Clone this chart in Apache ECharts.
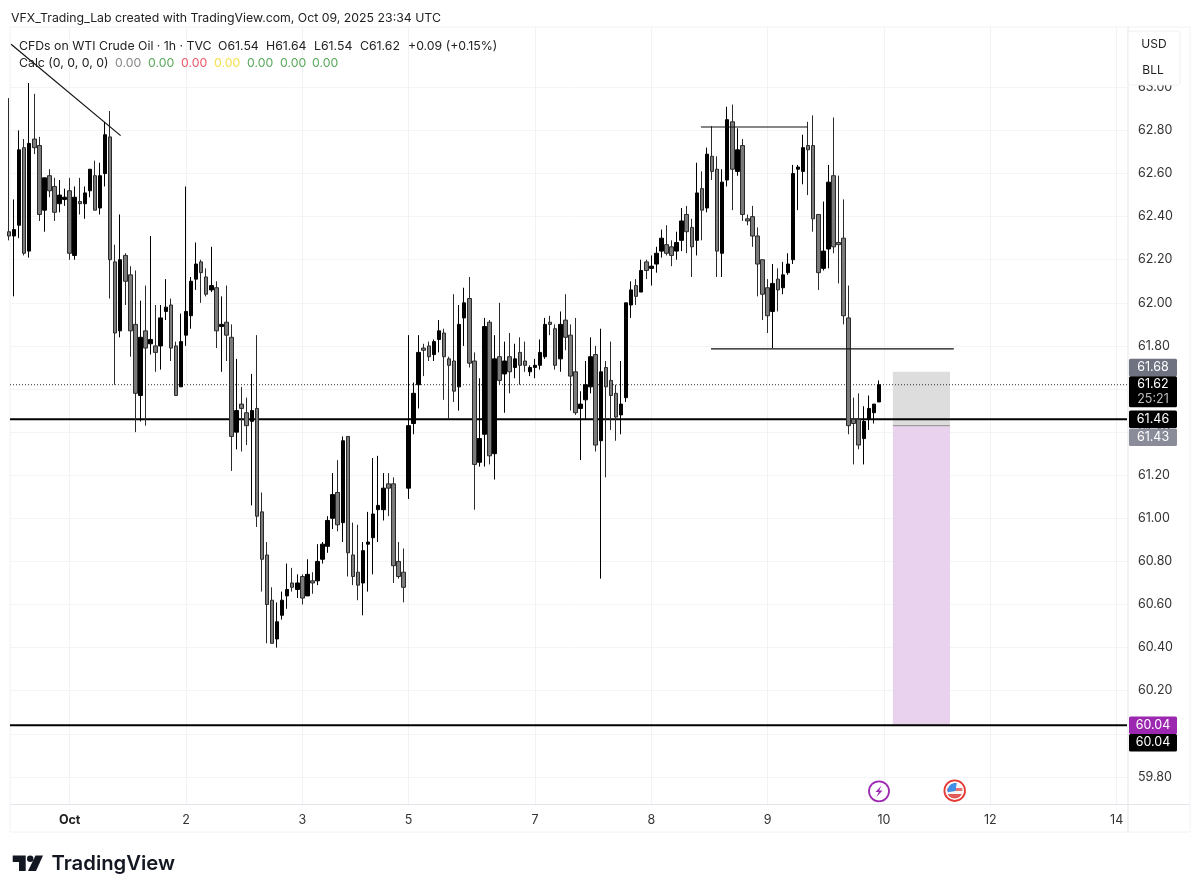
<!DOCTYPE html>
<html>
<head>
<meta charset="utf-8">
<title>CFDs on WTI Crude Oil</title>
<style>
  html, body { margin: 0; padding: 0; background: #fff; }
  #chart { width: 1200px; height: 895px; }
</style>
<script src="https://cdn.jsdelivr.net/npm/echarts@6/dist/echarts.min.js"></script>
</head>
<body>
<div id="chart"></div>
<script>
// 1h candles
var opens = [
  62.33,62.31,62.36,62.72,62.24,62.76,62.73,62.43,62.59,62.54,
  62.46,62.48,62.52,62.22,62.47,62.46,62.52,62.59,62.44,62.60,
  62.77,62.19,61.87,62.22,62.13,61.90,61.57,61.87,61.81,61.80,
  61.80,61.96,61.99,61.80,61.61,61.85,61.94,62.11,62.19,62.12,
  62.06,62.07,61.89,61.91,61.84,61.40,61.53,61.49,61.45,61.51,
  61.03,60.83,60.62,60.44,60.55,60.64,60.70,60.67,60.73,60.64,
  60.71,60.71,60.81,60.87,61.00,61.12,60.98,61.38,60.83,60.75,
  60.70,60.88,60.91,61.04,61.04,61.16,61.16,60.80,60.75,61.14,
  61.44,61.62,61.79,61.80,61.76,61.83,61.86,61.74,61.73,61.61,
  61.93,62.02,61.73,61.26,61.39,61.91,61.30,61.75,61.67,61.75,
  61.70,61.77,61.73,61.68,61.70,61.71,61.75,61.91,61.88,61.74,
  61.92,61.85,61.68,61.51,61.55,61.61,61.76,61.36,61.70,61.64,
  61.58,61.48,61.56,61.99,62.08,62.05,62.19,62.16,62.18,62.24,
  62.27,62.26,62.24,62.29,62.41,62.35,62.29,62.53,62.44,62.68,
  62.62,62.23,62.57,62.84,62.61,62.73,62.39,62.40,62.31,62.20,
  62.07,61.96,62.11,62.07,62.14,62.20,62.62,62.61,62.73,62.73,
  62.41,62.16,62.25,62.59,62.28,62.30,61.93,61.46,61.46,61.37,
  61.46,61.49,61.54
];
var closes = [
  62.31,62.34,62.71,62.23,62.74,62.72,62.41,62.58,62.52,62.42,
  62.50,62.49,62.23,62.49,62.46,62.51,62.62,62.43,62.59,62.78,
  62.20,61.86,62.20,62.10,61.87,61.58,61.84,61.79,61.83,61.77,
  61.93,61.98,61.79,61.57,61.82,61.96,62.10,62.18,62.14,62.04,
  62.08,61.87,61.90,61.85,61.38,61.50,61.51,61.43,61.50,61.01,
  60.81,60.60,60.42,60.52,60.62,60.67,60.68,60.70,60.63,60.74,
  60.70,60.80,60.88,60.99,61.11,60.97,61.36,60.84,60.73,60.69,
  60.85,60.89,61.02,61.06,61.14,61.14,60.78,60.73,60.68,61.43,
  61.58,61.77,61.78,61.75,61.82,61.87,61.75,61.71,61.59,61.90,
  62.00,61.72,61.25,61.37,61.89,61.29,61.74,61.64,61.73,61.68,
  61.74,61.71,61.71,61.70,61.71,61.77,61.90,61.90,61.71,61.90,
  61.84,61.66,61.49,61.53,61.62,61.75,61.34,61.68,61.61,61.57,
  61.47,61.53,62.00,62.06,62.03,62.15,62.15,62.17,62.23,62.30,
  62.23,62.22,62.28,62.38,62.33,62.26,62.51,62.43,62.69,62.61,
  62.24,62.56,62.85,62.62,62.71,62.41,62.38,62.31,62.18,62.04,
  61.94,62.09,62.06,62.13,62.18,62.60,62.63,62.72,62.71,62.39,
  62.14,62.24,62.56,62.26,62.27,61.94,61.43,61.44,61.34,61.45,
  61.51,61.53,61.62
];
var lows = [
  62.29,62.03,62.30,62.22,62.21,62.69,62.38,62.33,62.49,62.38,
  62.42,62.45,62.20,62.20,62.41,62.39,62.49,62.43,62.41,62.54,
  62.02,61.62,61.84,61.99,61.75,61.40,61.45,61.43,61.76,61.68,
  61.69,61.92,61.73,61.57,61.61,61.80,61.88,62.06,62.00,62.03,
  62.05,61.79,61.68,61.73,61.22,61.32,61.31,61.34,61.06,60.96,
  60.66,60.42,60.42,60.40,60.53,60.58,60.66,60.63,60.60,60.64,
  60.65,60.69,60.79,60.84,60.95,60.94,60.89,60.73,60.69,60.62,
  60.55,60.66,60.74,60.89,60.99,61.01,60.70,60.72,60.61,61.09,
  61.39,61.51,61.66,61.73,61.73,61.77,61.55,61.46,61.54,61.50,
  61.80,61.70,61.04,61.24,61.24,61.25,61.18,61.62,61.49,61.58,
  61.65,61.62,61.68,61.66,61.65,61.69,61.74,61.85,61.69,61.68,
  61.78,61.50,61.48,61.27,61.46,61.58,61.31,60.72,61.19,61.41,
  61.36,61.39,61.54,61.93,61.99,62.05,62.11,62.08,62.14,62.21,
  62.22,62.17,62.20,62.24,62.23,62.12,62.22,62.29,62.42,62.57,
  62.12,62.12,62.54,62.43,62.59,62.38,62.36,62.26,62.03,61.92,
  61.86,61.79,61.96,62.04,62.13,62.18,62.43,62.55,62.50,62.33,
  62.06,62.15,62.16,62.23,62.09,61.90,61.39,61.25,61.32,61.25,
  61.41,61.44,61.54
];
var highs = [
  62.95,62.48,62.80,62.76,63.02,62.97,62.77,62.58,62.62,62.58,
  62.57,62.53,62.58,62.54,62.58,62.54,62.62,62.66,62.65,62.84,
  62.89,62.27,62.41,62.23,62.17,62.15,62.01,62.08,62.31,61.99,
  61.99,62.11,62.02,61.82,61.95,62.54,62.12,62.28,62.20,62.16,
  62.26,62.10,62.03,62.08,61.90,61.74,61.61,61.56,61.67,61.85,
  61.12,60.89,60.68,60.61,60.66,60.79,60.77,60.74,60.74,60.81,
  60.75,60.88,60.89,61.01,61.21,61.27,61.38,61.38,60.98,60.97,
  60.89,61.03,61.28,61.29,61.21,61.21,61.19,60.89,60.86,61.85,
  61.63,61.85,61.81,61.82,61.83,61.92,61.88,61.75,62.04,61.99,
  62.07,62.12,61.77,61.65,61.93,61.92,61.85,62.00,61.82,61.86,
  61.81,61.84,61.82,61.71,61.74,61.83,61.93,61.94,61.90,61.96,
  62.04,61.90,61.93,61.59,61.73,61.84,61.80,61.88,61.73,61.82,
  61.62,61.73,62.00,62.10,62.11,62.20,62.20,62.22,62.26,62.34,
  62.36,62.29,62.33,62.44,62.45,62.39,62.65,62.61,62.72,62.82,
  62.68,62.62,62.91,62.92,62.81,62.76,62.41,62.45,62.35,62.20,
  62.11,62.18,62.16,62.19,62.23,62.64,62.64,62.78,62.84,62.87,
  62.41,62.47,62.64,62.86,62.59,62.48,62.08,61.56,61.58,61.52,
  61.57,61.53,61.64
];

// axes
var dateBars = [12, 35, 58, 79, 104, 127, 150, 173, 194, 219];
var dateNames = ['Oct', '2', '3', '5', '7', '8', '9', '10', '12', '14'];
var priceTicks = [59.8, 60, 60.2, 60.4, 60.6, 60.8, 61, 61.2, 61.4, 61.6, 61.8, 62, 62.2, 62.4, 62.6, 62.8, 63];

// drawings on the chart: bar numbers and prices
var supportPrices = [61.46, 60.04];
var lastPrice = 61.62;
var trendBars = [0.42, 22.07];
var trendPrices = [63.2, 62.776];
var topLineBars = [136.8, 157.85];
var topLinePrice = 62.816;
var lowLineBars = [138.8, 186.8];
var lowLinePrice = 61.786;
var boxBars = [174.75, 186.05];
var boxPrices = [61.68, 61.43, 60.04];

// price tags on the right
var tagNames = ['61.68', '61.62', '61.46', '61.43', '60.04', '60.04'];
var tagPrices = [61.68, 61.62, 61.46, 61.43, 60.04, 60.04];
var tagNudges = [-4.4, 0, 0, 11.7, 0, 17.5];
var tagColors = ['#6f7280', '#000000', '#000000', '#8a8d99', '#9c27b0', '#000000'];

// Calc row
var calcValues = ['0.00', '0.00', '0.00', '0.00', '0.00', '0.00', '0.00'];
var calcColors = ['#8a8a8a', '#5aa95e', '#ee5a6a', '#f5e050', '#5aa95e', '#5aa95e', '#5aa95e'];
var calcLefts = [115, 148, 181, 214, 247, 280, 312];

var FONT = 'Inter, "Noto Sans", sans-serif';
var xMin = 0.204;
var xMax = 221.04;

var candles = opens.map(function (o, i) {
  return [i, o, closes[i], lows[i], highs[i]];
});

var lineSeries = function (name, pts, color, width, type, z) {
  return {
    name: name,
    type: 'line',
    data: pts,
    symbol: 'none',
    silent: true,
    clip: false,
    z: z,
    lineStyle: { color: color, width: width, type: type }
  };
};

var myChart = echarts.init(document.getElementById('chart'));

var option = {
  animation: false,
  backgroundColor: '#ffffff',
  grid: { left: 10, right: 73, top: 27, bottom: 90.5 },
  xAxis: {
    type: 'value',
    min: xMin,
    max: xMax,
    axisLine: { show: false },
    axisTick: { show: false, customValues: dateBars },
    splitLine: { show: true, lineStyle: { color: '#f0f2f6', width: 1 } },
    axisLabel: {
      customValues: dateBars,
      margin: 9,
      color: '#333333',
      fontFamily: FONT,
      fontSize: 12.5,
      formatter: function (v) {
        var name = dateNames[dateBars.indexOf(v)];
        return name === 'Oct' ? '{b|Oct}' : name;
      },
      rich: { b: { fontWeight: 700, fontSize: 12.5, fontFamily: FONT, color: '#222222' } }
    }
  },
  yAxis: {
    type: 'value',
    position: 'right',
    min: 59.672,
    max: 63.28,
    axisLine: { show: false },
    axisTick: { show: false, customValues: priceTicks },
    splitLine: { show: true, lineStyle: { color: '#f3f4f7', width: 1 } },
    axisLabel: {
      customValues: priceTicks,
      margin: 11,
      padding: [2, 0, 0, 0],
      color: '#333333',
      fontFamily: FONT,
      fontSize: 12.5,
      formatter: function (v) { return v.toFixed(2); }
    }
  },
  series: [
    {
      name: 'box',
      type: 'line',
      data: [],
      silent: true,
      z: 1,
      markArea: {
        silent: true,
        data: [
          [
            { xAxis: boxBars[0], yAxis: boxPrices[0], itemStyle: { color: '#dddddd' } },
            { xAxis: boxBars[1], yAxis: boxPrices[1] }
          ],
          [
            { xAxis: boxBars[0], yAxis: boxPrices[1], itemStyle: { color: '#e8d2ee' } },
            { xAxis: boxBars[1], yAxis: boxPrices[2] }
          ]
        ]
      }
    },
    lineSeries('box mid', [[boxBars[0], boxPrices[1]], [boxBars[1], boxPrices[1]]], '#8f8f8f', 1, 'solid', 2),
    lineSeries('last', [[xMin, lastPrice], [xMax, lastPrice]], '#333333', 1, [1, 2], 2),
    lineSeries('support 1', [[xMin, supportPrices[0]], [xMax, supportPrices[0]]], '#000000', 2, 'solid', 3),
    lineSeries('support 2', [[xMin, supportPrices[1]], [xMax, supportPrices[1]]], '#000000', 2, 'solid', 3),
    {
      name: 'WTI',
      type: 'candlestick',
      data: candles,
      encode: { x: 0, y: [1, 2, 3, 4] },
      barWidth: 4,
      clip: false,
      silent: true,
      z: 4,
      itemStyle: {
        color: '#000000',
        color0: '#7a7a7a',
        borderColor: '#000000',
        borderColor0: '#2a2a2a',
        borderWidth: 1
      }
    },
    lineSeries('trend', [[trendBars[0], trendPrices[0]], [trendBars[1], trendPrices[1]]], '#111111', 1.2, 'solid', 5),
    lineSeries('top', [[topLineBars[0], topLinePrice], [topLineBars[1], topLinePrice]], '#111111', 1.2, 'solid', 5),
    lineSeries('low', [[lowLineBars[0], lowLinePrice], [lowLineBars[1], lowLinePrice]], '#111111', 1.2, 'solid', 5)
  ]
};
myChart.setOption(option);

// 文字、标签、图标
var txt = function (text, x, y, size, color, extra) {
  var style = { text: text, x: x, y: y, fontSize: size, fontFamily: FONT, fill: color, verticalAlign: 'middle', align: 'left' };
  for (var k in (extra || {})) style[k] = extra[k];
  return { type: 'text', z: 60, silent: true, style: style };
};

var items = [];

// panel frame
items.push({ type: 'rect', z: 1, silent: true, shape: { x: 10, y: 27, width: 1180, height: 805 }, style: { fill: 'none', stroke: '#f0f2f6', lineWidth: 1 } });
items.push({ type: 'line', z: 1, silent: true, shape: { x1: 1128, y1: 27, x2: 1128, y2: 832 }, style: { stroke: '#e3e5ea', lineWidth: 1 } });
items.push({ type: 'line', z: 1, silent: true, shape: { x1: 10, y1: 804.5, x2: 1190, y2: 804.5 }, style: { stroke: '#e3e5ea', lineWidth: 1 } });

// header
items.push(txt('VFX_Trading_Lab created with TradingView.com, Oct 09, 2025 23:34 UTC', 11, 18, 12.3, '#222222'));
items.push(txt('CFDs on WTI Crude Oil · 1h · TVC', 19, 46, 12.3, '#222222'));
items.push(txt('O61.54', 218, 46, 12.3, '#222222'));
items.push(txt('H61.64', 266, 46, 12.3, '#222222'));
items.push(txt('L61.54', 314, 46, 12.3, '#222222'));
items.push(txt('C61.62', 360, 46, 12.3, '#222222'));
items.push(txt('+0.09 (+0.15%)', 408, 46, 12.3, '#222222'));
items.push(txt('Calc (0, 0, 0, 0)', 19, 63, 12.3, '#222222'));
calcValues.forEach(function (v, i) {
  items.push(txt(v, calcLefts[i], 63, 12.3, calcColors[i]));
});

// USD / BLL box
items.push({ type: 'rect', z: 50, silent: true, shape: { x: 1128, y: 31, width: 52, height: 54, r: 3 }, style: { fill: '#ffffff', stroke: '#f0f0f3', lineWidth: 1 } });
items.push(txt('USD', 1154, 44, 12, '#222222', { align: 'center' }));
items.push(txt('BLL', 1153, 70, 12, '#222222', { align: 'center' }));

// price tags
tagNames.forEach(function (name, i) {
  var cy = myChart.convertToPixel({ yAxisIndex: 0 }, tagPrices[i]) + tagNudges[i];
  var h = name === '61.62' ? 31 : 17.5;
  var top = name === '61.62' ? cy - 8.5 : cy - h / 2;
  items.push({ type: 'rect', z: 55, silent: true, shape: { x: 1129, y: top, width: 48, height: h, r: 1.5 }, style: { fill: tagColors[i] } });
  items.push(txt(name, 1153, cy, 12.5, '#ffffff', { align: 'center' }));
  if (name === '61.62') {
    items.push(txt('25:21', 1153, cy + 14.5, 12.5, '#bdbdbd', { align: 'center' }));
  }
});

// event icons
items.push({ type: 'circle', z: 40, silent: true, shape: { cx: 879, cy: 791.3, r: 10 }, style: { fill: '#ffffff', stroke: '#9c27b0', lineWidth: 1.8 } });
items.push({ type: 'polygon', z: 41, silent: true, shape: { points: [[881.5, 785.5], [875.5, 792], [878.8, 792], [876.5, 797], [882.5, 790.5], [879.2, 790.5]] }, style: { fill: '#9c27b0' } });
items.push({ type: 'circle', z: 40, silent: true, shape: { cx: 954.7, cy: 790.7, r: 10.3 }, style: { fill: '#ffffff', stroke: '#e53935', lineWidth: 1.8 } });
items.push({
  type: 'circle', z: 41, silent: true,
  shape: { cx: 954.7, cy: 790.7, r: 7.8 },
  style: {
    fill: {
      type: 'linear', x: 0, y: 0, x2: 0, y2: 1,
      colorStops: [
        { offset: 0, color: '#f6f6f6' },
        { offset: 0.34, color: '#f6f6f6' },
        { offset: 0.34, color: '#e57373' },
        { offset: 0.5, color: '#e57373' },
        { offset: 0.5, color: '#f6f6f6' },
        { offset: 0.72, color: '#f6f6f6' },
        { offset: 0.72, color: '#e05a5a' },
        { offset: 1, color: '#e05a5a' }
      ]
    }
  }
});
items.push({
  type: 'sector', z: 42, silent: true,
  shape: { cx: 955.5, cy: 791, r: 8, startAngle: Math.PI * 0.95, endAngle: Math.PI * 1.55 },
  style: { fill: '#3f8ee8' }
});

// TradingView logo
items.push({ type: 'polygon', z: 40, silent: true, shape: { points: [[12.7, 855.5], [25.7, 855.5], [25.7, 871], [19, 871], [19, 862], [12.7, 862]] }, style: { fill: '#131722' } });
items.push({ type: 'circle', z: 40, silent: true, shape: { cx: 30.2, cy: 858.8, r: 3.2 }, style: { fill: '#131722' } });
items.push({ type: 'polygon', z: 40, silent: true, shape: { points: [[35.5, 855.5], [43, 855.5], [36, 871], [28, 871]] }, style: { fill: '#131722' } });
items.push(txt('TradingView', 51.5, 864, 20.3, '#131722', { fontWeight: 600 }));

myChart.setOption({ graphic: { elements: items } });
</script>
</body>
</html>
